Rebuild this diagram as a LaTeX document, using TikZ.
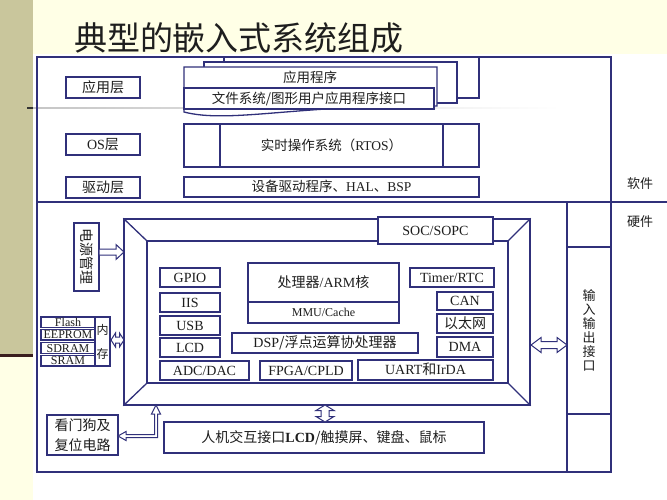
\documentclass[tikz,border=0pt]{standalone}
\usepackage{fontspec}
\setmainfont{Liberation Serif}
\newfontfamily\cjk{Noto Sans CJK SC}
\definecolor{navy}{RGB}{48,48,122}
\definecolor{txt}{RGB}{30,30,30}
\definecolor{slidebg}{RGB}{255,255,230}
\definecolor{olive}{RGB}{201,198,156}
\definecolor{darkline}{RGB}{58,30,30}
\newcommand\zh[1]{{\cjk #1}}
\newcommand\bx[7][]{\node[box,minimum width={(#5-#3)*1pt},minimum height={(#6-#4)*1pt},#1] (#2) at ({(#3+#5)/2},{(#4+#6)/2}) {#7};}
\tikzset{
  ln/.style={draw=navy, line width=1.3pt},
  harrow/.style={draw=navy, line width=1pt, fill=white, line join=miter},
  f14/.style={font=\fontsize{14}{16}\selectfont, text height=10.5pt, text depth=0.7pt},
  f13/.style={font=\fontsize{13.5}{15}\selectfont, text height=10pt, text depth=0.7pt},
  f12/.style={font=\fontsize{12}{14}\selectfont, text height=8.6pt, text depth=0.4pt},
  box/.style={draw=navy, line width=1.3pt, fill=white, inner sep=0pt, text=txt, f14},
  lbl/.style={text=txt, inner sep=0pt},
}
\begin{document}
\begin{tikzpicture}[x=1pt,y=-1pt]
\useasboundingbox (0,0) rectangle (667,500);
% slide background
\fill[slidebg] (0,0) rectangle (667,500);
\fill[olive] (0,0) rectangle (33,354);
\fill[darkline] (0,353.5) rectangle (33,356.5);
\fill[white] (33,54) rectangle (667,500);
\shade[left color=gray!45, right color=white] (33,107.4) rectangle (560,108.6);
\fill[black!80] (27,107.2) rectangle (33,109);
\node[lbl, font=\cjk\fontsize{33}{36}\selectfont] (title) at (239,38) {典型的嵌入式系统组成};

% frame
\bx[fill=none]{outer}{37}{57}{611}{472}{}
\coordinate (sepL) at (37,202);
\coordinate (sepR) at (667,202);
\draw[ln] (sepL) -- (sepR);
\coordinate (ioT) at (567,202);
\coordinate (ioB) at (567,472);
\draw[ln] (ioT) -- (ioB);
\bx{io}{567}{247}{611}{414}{}
\node[lbl, font=\cjk\fontsize{13}{14}\selectfont, align=center] (iotext) at (io.center) {输\\入\\输\\出\\接\\口};
\node[lbl, font=\cjk\fontsize{13}{15}\selectfont] (sw) at (640,184) {软件};
\node[lbl, font=\cjk\fontsize{13}{15}\selectfont] (hw) at (640,222) {硬件};

% software layers
\bx{lapp}{66}{77}{140}{98}{\zh{应用层}}
\bx{los}{66}{134}{140}{155}{OS\zh{层}}
\bx{ldrv}{66}{177}{140}{198}{\zh{驱动层}}

\bx[f13]{appback}{224}{57}{479}{98}{}
\bx[f13]{appmid}{204}{62}{457}{103}{}
\draw[ln, fill=white] (184,67) -- (437,67) -- (437,106) .. controls (300,104) and (230,124) .. (184,112) -- cycle;
\node[lbl, f13] (apptext) at (310,78) {\zh{应用程序}};
\bx[f13]{fs}{184}{88}{434}{109}{\zh{文件系统/图形用户应用程序接口}}

\bx[f13]{rtos}{184}{124}{479}{167}{\zh{实时操作系统（}RTOS\zh{）}}
\draw[ln] (220,124) -- (220,167);
\draw[ln] (443,124) -- (443,167);
\bx[f13]{drv}{184}{177}{479}{197}{\zh{设备驱动程序、}HAL\zh{、}BSP}

% hardware
\bx{pm}{74}{223}{99}{291}{}
\node[lbl, rotate=-90, font=\cjk\fontsize{14}{16}\selectfont] (pmtext) at (pm.center) {电源管理};
\draw[harrow] (99,249) -- (116,249) -- (116,244.5) -- (124,252) -- (116,259.5) -- (116,255) -- (99,255) -- cycle;

\bx[fill=none]{socO}{124}{219}{530}{405}{}
\bx[fill=none]{socI}{147}{241}{508}{383}{}
\draw[ln] (socO.north west) -- (socI.north west);
\draw[ln] (socO.north east) -- (socI.north east);
\draw[ln] (socO.south west) -- (socI.south west);
\draw[ln] (socO.south east) -- (socI.south east);
\bx{soc}{378}{217}{493}{244}{SOC/SOPC}

\bx{cpu}{248}{263}{399}{302}{\zh{处理器}/ARM\zh{核}}
\bx[f12]{mmu}{248}{302}{399}{323}{MMU/Cache}

\bx{gpio}{160}{268}{220}{287}{GPIO}
\bx{iis}{160}{293}{220}{312}{IIS}
\bx{usb}{160}{316}{220}{335}{USB}
\bx{lcd}{160}{338}{220}{357}{LCD}
\bx{adc}{160}{361}{249}{380}{ADC/DAC}
\bx{fpga}{260}{361}{352}{380}{FPGA/CPLD}
\bx{uart}{358}{360}{493}{380}{UART\zh{和}IrDA}
\bx{dsp}{232}{333}{418}{353}{DSP\zh{/浮点运算协处理器}}
\bx{timer}{410}{268}{494}{287}{Timer/RTC}
\bx{can}{437}{292}{493}{310}{CAN}
\bx{eth}{437}{314}{493}{333}{\zh{以太网}}
\bx{dma}{437}{337}{493}{357}{DMA}

% memory
\bx[f12]{flash}{41}{317}{95}{327.5}{Flash}
\bx[f12]{eeprom}{41}{329.5}{95}{340}{EEPROM}
\bx[f12]{sdram}{41}{342.5}{95}{353.5}{SDRAM}
\bx[f12]{sram}{41}{355.5}{95}{366}{SRAM}
\bx{mem}{95}{317}{110}{366}{}
\node[lbl, font=\cjk\fontsize{12}{24}\selectfont, align=center] (memtext) at (mem.center) {内\\存};
\draw[harrow] (111,340) -- (115.5,333) -- (115.5,337) -- (119.5,337) -- (119.5,333) -- (124,340) -- (119.5,347) -- (119.5,343) -- (115.5,343) -- (115.5,347) -- cycle;

% io arrow
\draw[harrow] (531,345) -- (541,337.5) -- (541,341.5) -- (557,341.5) -- (557,337.5) -- (567,345) -- (557,352.5) -- (557,348.5) -- (541,348.5) -- (541,352.5) -- cycle;

% watchdog
\bx{wd}{47}{415}{118}{455}{}
\node[lbl, font=\cjk\fontsize{14}{20}\selectfont, align=center] (wdtext) at (wd.center) {看门狗及\\复位电路};
\draw[harrow] (118,436) -- (126,431.5) -- (126,434.5) -- (154.5,434.5) -- (154.5,414) -- (151.5,414) -- (156,405) -- (160.5,414) -- (157.5,414) -- (157.5,437.5) -- (126,437.5) -- (126,440.5) -- cycle;

% HMI
\bx{hmi}{164}{422}{484}{453}{\zh{人机交互接口}\textbf{LCD}\zh{/触摸屏、键盘、鼠标}}
\draw[harrow] (325,405) -- (334,410.5) -- (329,410.5) -- (329,416.5) -- (334,416.5) -- (325,422) -- (316,416.5) -- (321,416.5) -- (321,410.5) -- (316,410.5) -- cycle;
\end{tikzpicture}
\end{document}
